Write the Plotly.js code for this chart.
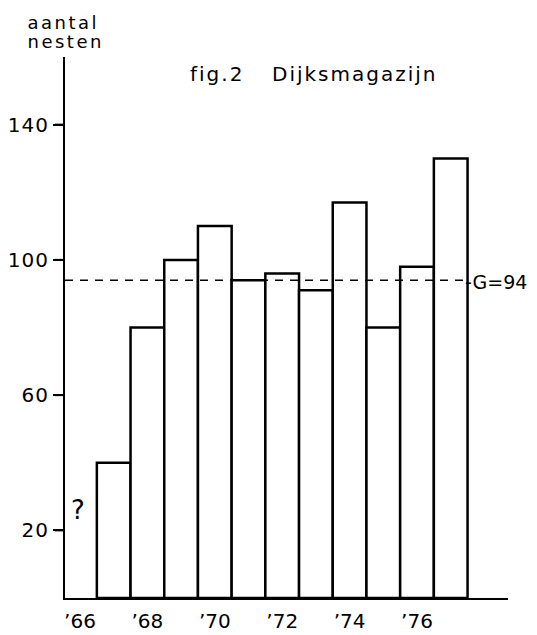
<!DOCTYPE html>
<html>
<head>
<meta charset="utf-8">
<script src="https://cdn.plot.ly/plotly-3.0.1.min.js"></script>
<style>
  html, body { margin: 0; padding: 0; background: #fff; }
  #chart { width: 537px; height: 635px; }
  .annotation[data-index="0"] text,
  .annotation[data-index="1"] text { letter-spacing: 2px; }
  .annotation[data-index="2"] text,
  .annotation[data-index="3"] text { letter-spacing: 2.5px; }
  .ytick text { letter-spacing: 1px; }
</style>
</head>
<body>
<div id="chart"></div>
<script>
// Data
const years = [67, 68, 69, 70, 71, 72, 73, 74, 75, 76, 77];
const nests = [40, 80, 100, 110, 94, 96, 91, 117, 80, 98, 130];
const meanG = 94;
const xTickVals = [66, 68, 70, 72, 74, 76];
const xTickText = ["\u201966", "\u201968", "\u201970", "\u201972", "\u201974", "\u201976"];
const yTickVals = [20, 60, 100, 140];
const unknownYear = 66;

const FONT = "DejaVu Sans";

const trace = {
  type: "bar",
  x: years,
  y: nests,
  width: 1,
  marker: { color: "#ffffff", line: { color: "#000000", width: 2.5 } },
  hoverinfo: "x+y"
};

// short tick dashes to the left of the y axis, one per tick value
const tickShapes = yTickVals.map(v => ({
  type: "line",
  xref: "paper", xsizemode: "pixel", xanchor: 0, x0: -10, x1: 0,
  yref: "y", y0: v, y1: v,
  line: { color: "#000000", width: 2 }
}));

const layout = {
  width: 537,
  height: 635,
  margin: { l: 65, r: 29, t: 57, b: 37 },
  paper_bgcolor: "#ffffff",
  plot_bgcolor: "#ffffff",
  showlegend: false,
  font: { family: FONT, color: "#000000", size: 20 },
  xaxis: {
    range: [65.555, 78.70],
    tickvals: xTickVals,
    ticktext: xTickText,
    ticks: "",
    showgrid: false,
    zeroline: false,
    showline: true,
    linecolor: "#000000",
    linewidth: 2,
    tickfont: { family: FONT, size: 20, color: "#000000" },
    ticklabelstandoff: 4
  },
  yaxis: {
    range: [0, 160],
    tickmode: "array",
    tickvals: yTickVals,
    ticktext: yTickVals.map(String),
    ticks: "outside",
    ticklen: 10,
    tickwidth: 2,
    tickcolor: "#000000",
    showgrid: false,
    zeroline: false,
    showline: true,
    linecolor: "#000000",
    linewidth: 2,
    tickfont: { family: FONT, size: 20, color: "#000000" }
  },
  shapes: [{
    type: "line",
    xref: "paper", x0: 0, x1: 0.9075,
    yref: "y", y0: meanG, y1: meanG,
    line: { color: "#000000", width: 1.5, dash: "8px,7px" }
  }].concat(tickShapes),
  annotations: [
    { text: "fig.2", xref: "paper", yref: "paper", x: 0.289, y: 0.969,
      xanchor: "left", yanchor: "middle", showarrow: false,
      font: { family: FONT, size: 20, color: "#000" } },
    { text: "Dijksmagazijn", xref: "paper", yref: "paper", x: 0.492, y: 0.969,
      xanchor: "left", yanchor: "middle", showarrow: false,
      font: { family: FONT, size: 20, color: "#000" } },
    { text: "aantal", xref: "paper", yref: "paper", x: -0.072, y: 1.063,
      xanchor: "left", yanchor: "middle", showarrow: false,
      font: { family: FONT, size: 18, color: "#000" } },
    { text: "nesten", xref: "paper", yref: "paper", x: -0.072, y: 1.028,
      xanchor: "left", yanchor: "middle", showarrow: false,
      font: { family: FONT, size: 18, color: "#000" } },
    { text: "-G=" + meanG, xref: "paper", yref: "y", x: 0.9075, y: meanG,
      xanchor: "left", yanchor: "middle", showarrow: false, xshift: -4, yshift: -2,
      font: { family: FONT, size: 19, color: "#000" } },
    { text: "?", xref: "x", yref: "y", x: unknownYear - 0.05, y: 26,
      xanchor: "center", yanchor: "middle", showarrow: false,
      font: { family: FONT, size: 26, color: "#000" } }
  ]
};

Plotly.newPlot("chart", [trace], layout, { displayModeBar: false, staticPlot: true });
</script>
</body>
</html>
